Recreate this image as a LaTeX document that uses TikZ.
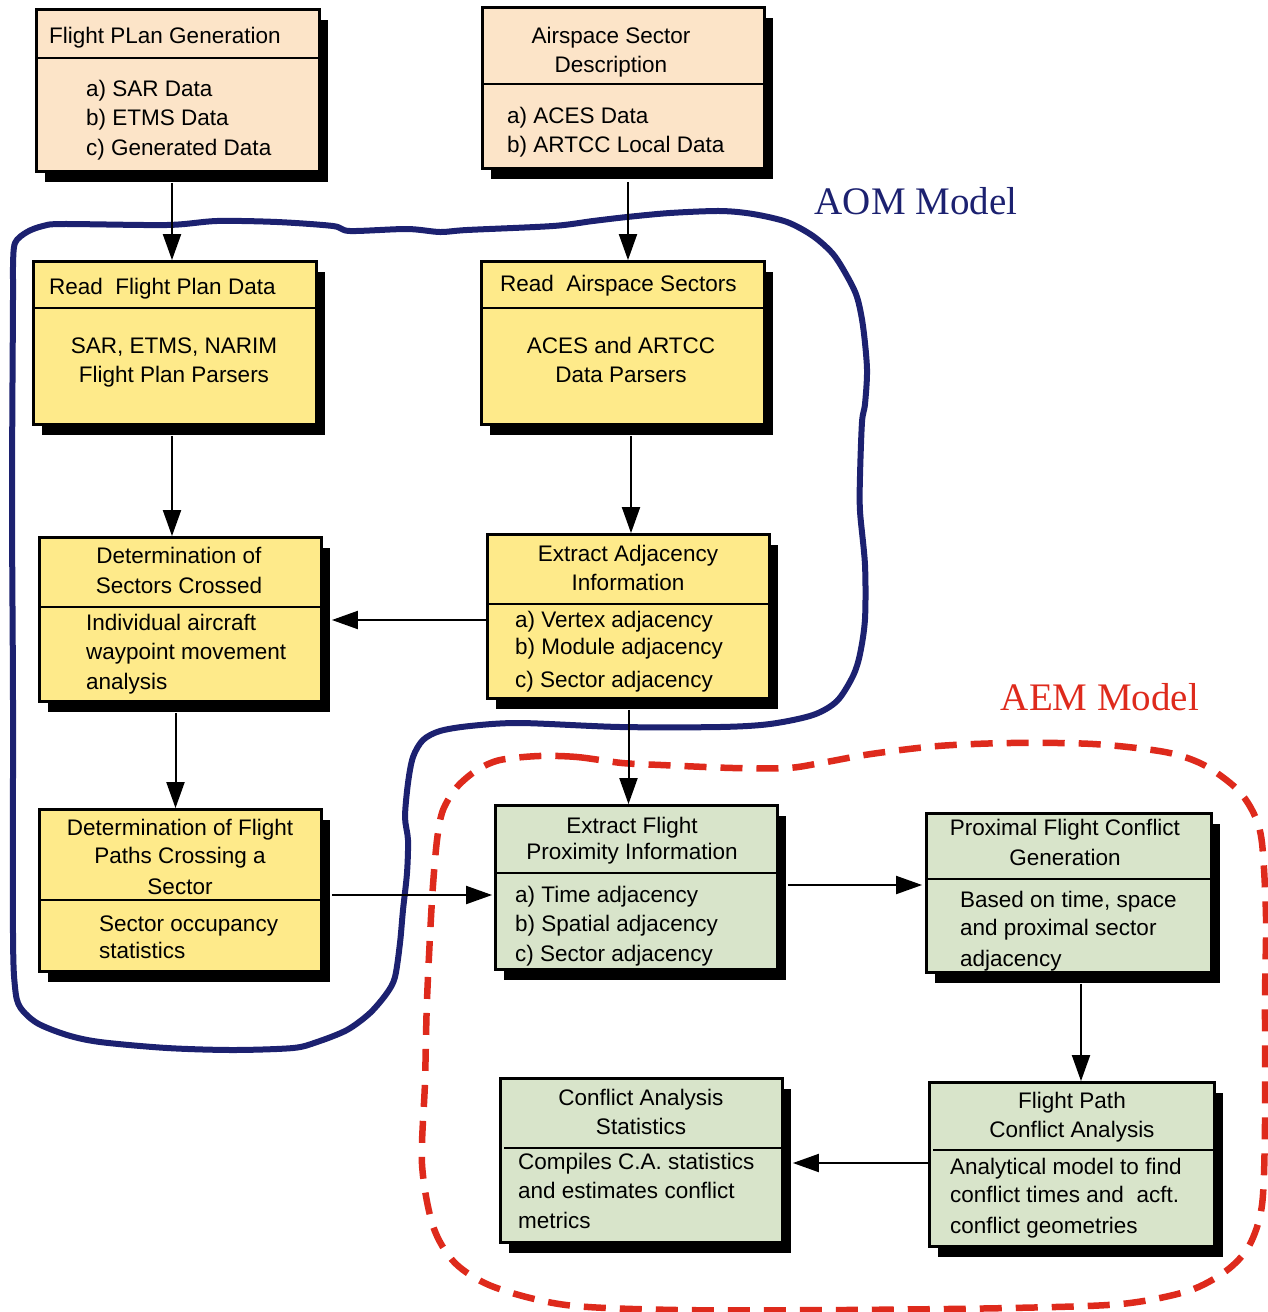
\documentclass[tikz,border=0pt]{standalone}
\usepackage{fontspec}
\setmainfont{Liberation Sans}
\newfontfamily\labelserif{Liberation Serif}
\usetikzlibrary{arrows.meta,calc,shadows}
\definecolor{peach}{RGB}{252,228,200}
\definecolor{sand}{RGB}{254,234,138}
\definecolor{sage}{RGB}{216,228,202}
\definecolor{aomblue}{RGB}{28,33,112}
\definecolor{aemred}{RGB}{222,42,28}
\begin{document}
\begin{tikzpicture}[x=1pt,y=-1pt,
  font=\fontsize{22.5}{29.5}\selectfont,
  box/.style={draw=black, line width=2.8pt, inner sep=0pt,
    drop shadow={shadow xshift=8pt, shadow yshift=-10pt, opacity=1, fill=black}},
  divider/.style={line width=2.5pt},
  % multi-line texts are placed by the baseline of their last line
  txt/.style={inner sep=0pt, anchor=base west, align=left},
  ctxt/.style={inner sep=0pt, anchor=base, align=center},
  conn/.style={line width=2pt, -{Triangle[length=26pt,width=18pt]}},
  groupname/.style={font=\labelserif\fontsize{39}{44}\selectfont, anchor=base}]
\useasboundingbox (0,0) rectangle (1267,1312);

% group outlines
\draw[aomblue, line width=6pt, line join=round] plot[smooth cycle, tension=0.5] coordinates {
 (15,243) (27,232) (43,226) (63,224) (167,225) (217,221) (277,222) (333,226) (350,231)
 (407,229) (440,232) (467,230) (553,226) (593,221) (627,217) (670,213) (720,211) (753,214)
 (787,222) (813,236) (833,254) (847,276) (857,297) (863,326) (867,369) (865,404) (862,422)
 (860,476) (860,511) (865,565) (865,619) (860,654) (853,676) (837,701) (813,715) (770,724)
 (720,727) (620,727) (520,723) (470,726) (440,731) (423,740) (413,757) (408,783) (405,817)
 (408,840) (407,873) (403,910) (400,943) (395,977) (387,993) (370,1013) (347,1030) (317,1042)
 (293,1048) (233,1050) (167,1048) (100,1042) (67,1035) (37,1023) (20,1007) (15,987) (13,933)
 (13,700) (12,500) (13,300) (13,267)};
\draw[aemred, line width=6.5pt, dash pattern=on 22pt off 14pt] plot[smooth cycle, tension=0.5] coordinates {
 (539,756) (577,757) (622,763) (661,765) (733,768) (788,768) (821,763) (871,754) (938,746)
 (1010,743) (1093,744) (1165,752) (1204,765) (1237,789) (1254,814) (1262,843) (1266,917)
 (1265,999) (1265,1123) (1262,1205) (1249,1246) (1226,1271) (1188,1291) (1121,1304)
 (1010,1308) (844,1310) (677,1310) (566,1305) (494,1287) (455,1263) (433,1226) (422,1164)
 (425,1082) (427,1000) (432,900) (437,840) (443,810) (457,787) (477,770) (500,760)};

\node[groupname, text=aomblue] (aom) at (916,214) {AOM Model};
\node[groupname, text=aemred] (aem) at (1100,710) {AEM Model};

% boxes
\node[box, fill=peach, minimum width=283pt, minimum height=162pt] (fpg) at (178,90.5) {};
\node[box, fill=peach, minimum width=282pt, minimum height=161pt] (asd) at (623.5,88) {};
\node[box, fill=sand, minimum width=283pt, minimum height=163pt] (rfp) at (175,343) {};
\node[box, fill=sand, minimum width=283pt, minimum height=163pt] (ras) at (623,343) {};
\node[box, fill=sand, minimum width=282pt, minimum height=164pt] (dsc) at (180.5,619.5) {};
\node[box, fill=sand, minimum width=282pt, minimum height=164pt] (eai) at (628.5,616.5) {};
\node[box, fill=sand, minimum width=282pt, minimum height=162pt] (dfp) at (180.5,890.5) {};
\node[box, fill=sage, minimum width=282pt, minimum height=164pt] (efp) at (636.5,887.5) {};
\node[box, fill=sage, minimum width=285pt, minimum height=159pt] (pfc) at (1069,893) {};
\node[box, fill=sage, minimum width=282pt, minimum height=164pt] (cas) at (641.5,1160.5) {};
\node[box, fill=sage, minimum width=285pt, minimum height=164pt] (fpca) at (1072,1164.5) {};

% header dividers
\draw[divider] (fpg.west |- 0,58) -- (fpg.east |- 0,58);
\draw[divider] (asd.west |- 0,84) -- (asd.east |- 0,84);
\draw[divider] (rfp.west |- 0,308) -- (rfp.east |- 0,308);
\draw[divider] (ras.west |- 0,308) -- (ras.east |- 0,308);
\draw[divider] (dsc.west |- 0,607) -- (dsc.east |- 0,607);
\draw[divider] (eai.west |- 0,604) -- (eai.east |- 0,604);
\draw[divider] (dfp.west |- 0,900) -- (dfp.east |- 0,900);
\draw[divider] (efp.west |- 0,873) -- (efp.east |- 0,873);
\draw[divider] (pfc.west |- 0,879) -- (pfc.east |- 0,879);
\draw[divider] ($(cas.west |- 0,1148)+(5,0)$) -- (cas.east |- 0,1148);
\draw[divider] ($(fpca.west |- 0,1150)+(5,0)$) -- (fpca.east |- 0,1150);

% box texts
\node[txt] (fpg-h) at (49,43) {Flight PLan Generation};
\node[txt] (fpg-b) at (86,155) {a) SAR Data\\ b) ETMS Data\\ c) Generated Data};

\node[ctxt] (asd-h) at (611,72) {Airspace Sector\\[-0.5pt] Description};
\node[txt] (asd-b) at (507,152) {a) ACES Data\\[-0.5pt] b) ARTCC Local Data};

\node[txt] (rfp-h) at (49,294) {Read~~Flight Plan Data};
\node[ctxt] (rfp-b) at (174,382) {SAR, ETMS, NARIM\\[-0.5pt] Flight Plan Parsers};

\node[txt] (ras-h) at (500,291) {Read~~Airspace Sectors};
\node[ctxt] (ras-b) at (621,382) {ACES and ARTCC\\[-0.5pt] Data Parsers};

\node[ctxt] (dsc-h) at (179,593) {Determination of\\[0.5pt] Sectors Crossed};
\node[txt] (dsc-b) at (86,689) {Individual aircraft\\ waypoint movement\\ analysis};

\node[ctxt] (eai-h) at (628,590) {Extract Adjacency\\[-0.5pt] Information};
\node[txt] (eai-b) at (515,687) {a) Vertex adjacency\\[-2.5pt] b) Module adjacency\\[3.5pt] c) Sector adjacency};

\node[ctxt] (dfp-h) at (180,894) {Determination of Flight\\[-1.5pt] Paths Crossing a\\[1.5pt] Sector};
\node[txt] (dfp-b) at (99,958) {Sector occupancy\\[-2.5pt] statistics};

\node[ctxt] (efp-h) at (632,859) {Extract Flight\\[-3.5pt] Proximity Information};
\node[txt] (efp-b) at (515,961) {a) Time adjacency\\ b) Spatial adjacency\\ c) Sector adjacency};

\node[ctxt] (pfc-h) at (1065,865) {Proximal Flight Conflict\\[0.5pt] Generation};
\node[txt] (pfc-b) at (960,966) {Based on time, space\\[-1.5pt] and proximal sector\\[1.5pt] adjacency};

\node[ctxt] (cas-h) at (641,1134) {Conflict Analysis\\[-0.5pt] Statistics};
\node[txt] (cas-b) at (518,1228) {Compiles C.A. statistics\\[-0.5pt] and estimates conflict\\ metrics};

\node[ctxt] (fpca-h) at (1072,1137) {Flight Path\\[-0.5pt] Conflict Analysis};
\node[txt] (fpca-b) at (950,1233) {Analytical model to find\\[-1.5pt] conflict times and~~acft.\\[1.5pt] conflict geometries};

% connectors
\draw[conn] ($(rfp.north |- fpg.south)+(-3,10)$) -- ($(rfp.north)+(-3,0)$);
\draw[conn] ($(ras.north |- asd.south)+(5,12)$) -- ($(ras.north)+(5,0)$);
\draw[conn] ($(rfp.south)+(-3,10)$) -- ($(dsc.north -| rfp.south)+(-3,0)$);
\draw[conn] ($(ras.south)+(8,10)$) -- ($(eai.north -| ras.south)+(8,0)$);
\draw[conn] ($(eai.west)+(0,3.5)$) -- ($(dsc.east |- eai.west)+(9,3.5)$);
\draw[conn] ($(dsc.south)+(-5,10)$) -- ($(dfp.north)+(-5,0)$);
\draw[conn] ($(eai.south)+(0,10)$) -- (efp.north -| eai.south);
\draw[conn] ($(dfp.east)+(9,4.5)$) -- ($(efp.west |- dfp.east)+(-2,4.5)$);
\draw[conn] ($(efp.east)+(9,-2.5)$) -- ($(pfc.west |- efp.east)+(-3,-2.5)$);
\draw[conn] ($(pfc.south)+(12,10)$) -- ($(fpca.north -| pfc.south)+(12,0)$);
\draw[conn] ($(fpca.west)+(0,-1.5)$) -- ($(cas.east |- fpca.west)+(9,-1.5)$);
\end{tikzpicture}
\end{document}
